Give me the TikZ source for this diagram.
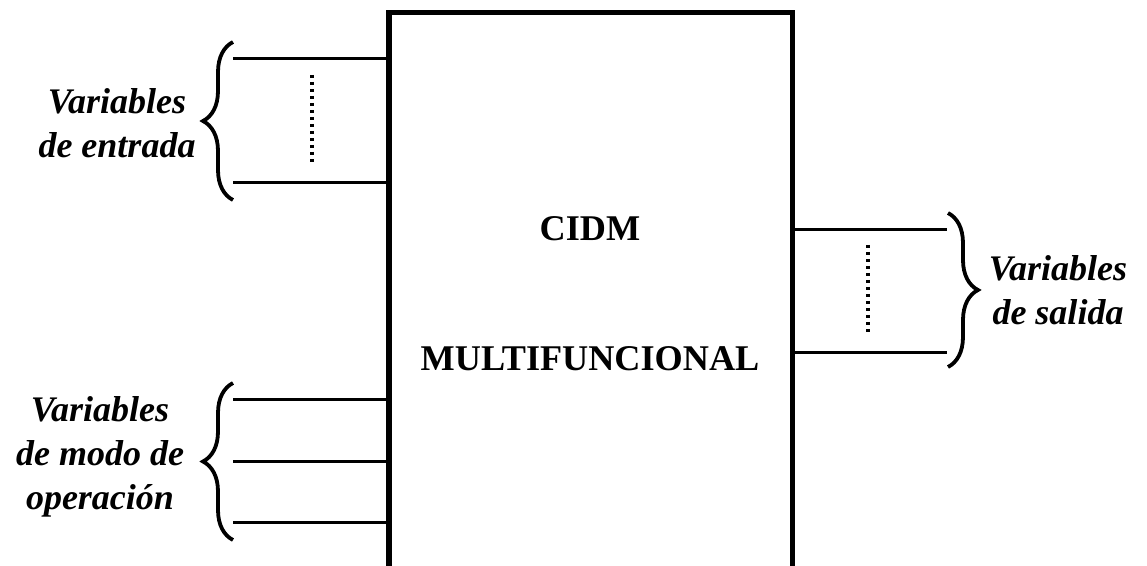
\documentclass[tikz,border=0pt]{standalone}
\usepackage{fontspec}
\setmainfont{Liberation Serif}
\usetikzlibrary{decorations.pathreplacing}

\begin{document}
\begin{tikzpicture}[x=0.5pt, y=-0.5pt,
  wire/.style={line width=1.5pt},
  dots/.style={line width=1.75pt, dash pattern=on 1.5pt off 2pt},
  curly/.style={line width=1.9pt, decorate, decoration={brace, amplitude=15pt}},
  varlabel/.style={font=\fontsize{18}{22}\selectfont\bfseries\itshape, align=center, inner sep=0pt},
  blocktext/.style={font=\fontsize{18.1}{21}\selectfont\bfseries, inner sep=0pt}]
  %
  % Frame
  \useasboundingbox (0,0) rectangle (1147,566);
  %
  % Block (open at the bottom)
  \coordinate (bl) at (389,566);
  \coordinate (tl) at (389,12.5);
  \coordinate (tr) at (792.5,12.5);
  \coordinate (br) at (792.5,566);
  \draw[line width=2.75pt] (bl) -- (tl) -- (tr) -- (br);
  \node[blocktext] (cidm) at (590,228.5) {CIDM};
  \node[blocktext] (multi) at (590,358.5) {MULTIFUNCIONAL};
  %
  % Input lines
  \coordinate (in1) at (233,59);
  \coordinate (in2) at (233,183);
  \draw[wire] (in1) -- (in1 -| tl);
  \draw[wire] (in2) -- (in2 -| tl);
  \coordinate (indotA) at (312,75);
  \coordinate (indotB) at (312,164);
  \draw[dots] (indotA) -- (indotB);
  %
  % Operation mode lines
  \foreach \y [count=\i] in {400,462,523} {
    \coordinate (mode\i) at (233,\y);
    \draw[wire] (mode\i) -- (mode\i -| tl);
  }
  %
  % Output lines
  \coordinate (out1) at (947,230);
  \coordinate (out2) at (947,353);
  \draw[wire] (out1 -| tr) -- (out1);
  \draw[wire] (out2 -| tr) -- (out2);
  \coordinate (outdotA) at (868,245);
  \coordinate (outdotB) at (868,336);
  \draw[dots] (outdotA) -- (outdotB);
  %
  % Braces
  \coordinate (binA) at (233,200);
  \coordinate (binB) at (233,42);
  \draw[curly] (binA) -- (binB);
  \coordinate (bmodeA) at (233,540);
  \coordinate (bmodeB) at (233,383);
  \draw[curly] (bmodeA) -- (bmodeB);
  \coordinate (boutA) at (948,213);
  \coordinate (boutB) at (948,367);
  \draw[curly] (boutA) -- (boutB);
  %
  % Labels
  \node[varlabel] (inlabel) at (117,123) {Variables\\de entrada};
  \node[varlabel] (modelabel) at (100,457) {Variables\\de modo de\\operación};
  \node[varlabel] (outlabel) at (1058,290) {Variables\\de salida};
\end{tikzpicture}
\end{document}
